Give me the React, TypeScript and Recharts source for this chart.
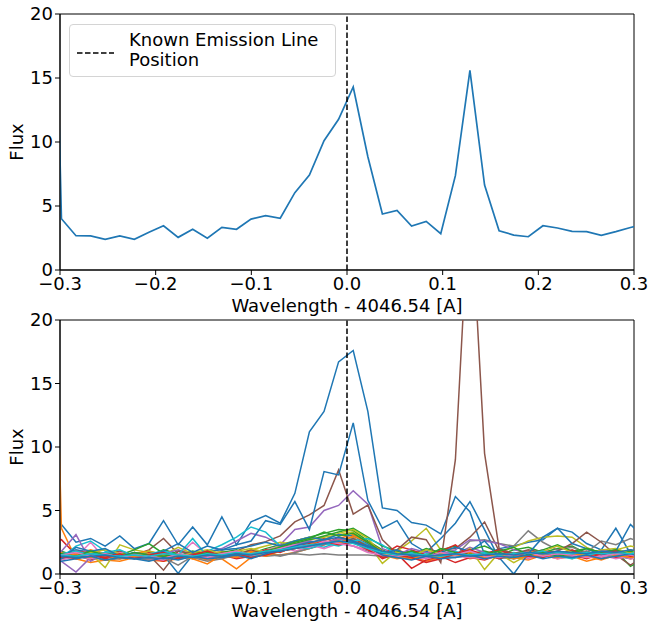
import React from 'react';
import { LineChart, Line, XAxis, YAxis, ReferenceLine, ReferenceArea, Legend } from 'recharts';

// wavelength offsets (A) of the spectral samples (first and last fall just outside the plotted window)
const wavelength = [-0.3138, -0.2985, -0.2833, -0.2680, -0.2528, -0.2375, -0.2223, -0.2070, -0.1918, -0.1765, -0.1613, -0.1460, -0.1308, -0.1155, -0.1003, -0.0850, -0.0698, -0.0545, -0.0393, -0.0240, -0.0088, 0.0065, 0.0218, 0.0370, 0.0523, 0.0675, 0.0828, 0.0980, 0.1133, 0.1285, 0.1438, 0.1590, 0.1743, 0.1895, 0.2048, 0.2200, 0.2353, 0.2505, 0.2658, 0.2810, 0.2963, 0.3115];

const X_TICKS = [-0.3, -0.2, -0.1, 0, 0.1, 0.2, 0.3];
const Y_TICKS = [0, 5, 10, 15, 20];
const X_LABEL = 'Wavelength - 4046.54 [A]';
const Y_LABEL = 'Flux';
const LEGEND_LINES = ['Known Emission Line', 'Position'];

// top panel
const topFlux = [52, 4.0, 2.68, 2.66, 2.4, 2.66, 2.4, 2.95, 3.46, 2.55, 3.18, 2.48, 3.33, 3.18, 3.98, 4.24, 4.04, 6.04, 7.42, 10.1, 11.77, 14.3, 8.85, 4.37, 4.66, 3.44, 3.8, 2.84, 7.37, 15.6, 6.64, 3.07, 2.73, 2.6, 3.46, 3.28, 3.02, 3.0, 2.71, 3.0, 3.32, 3.6];

// bottom panel: individual spectra
const specA = [3.9, 3.9, 2.5, 2.8, 2.2, 3.0, 2.0, 2.4, 4.2, 2.3, 3.7, 2.3, 4.5, 2.3, 4.1, 4.6, 4.0, 6.35, 11.2, 12.8, 16.7, 17.6, 12.8, 5.2, 5.0, 4.05, 3.85, 3.15, 6.1, 4.9, 1.5, 2.0, 2.2, 2.5, 2.7, 3.6, 3.3, 2.4, 1.9, 3.6, 1.6, 1.5];
const specOrange1 = [46, 3.6, 1.2, 0.9, 1.1, 1.0, 1.3, 1.1, 1.0, 1.2, 1.4, 1.1, 1.2, 0.4, 1.3, 1.6, 1.5, 1.7, 2.0, 2.4, 2.7, 2.9, 2.1, 1.5, 1.2, 1.4, 1.0, 1.3, 1.6, 1.2, 1.4, 1.6, 1.3, 1.1, 1.5, 1.2, 1.4, 1.0, 1.3, 1.5, 1.2, 1.4];
const specGreen1 = [1.4, 1.3, 1.6, 1.5, 1.2, 1.7, 1.5, 1.4, 1.9, 1.6, 1.3, 1.8, 1.5, 1.7, 1.6, 2.0, 2.3, 2.6, 2.9, 3.2, 3.5, 3.4, 2.6, 1.9, 1.4, 1.7, 1.5, 1.9, 2.2, 1.6, 1.8, 1.5, 1.9, 2.1, 1.7, 2.0, 2.2, 1.6, 1.9, 1.8, 0.6, 1.2];
const specRed1 = [2.4, 2.7, 1.5, 1.1, 1.4, 1.2, 1.6, 1.3, 1.0, 1.5, 1.2, 1.4, 1.8, 1.3, 1.6, 1.5, 1.9, 2.1, 2.4, 2.8, 2.5, 2.7, 2.0, 1.2, 1.6, 0.45, 1.1, 1.4, 0.9, 1.3, 1.1, 1.5, 1.2, 1.8, 1.4, 1.6, 1.3, 1.7, 1.2, 1.5, 1.9, 1.4];
const specPurple1 = [1.6, 1.0, 0.15, 1.3, 1.7, 1.4, 1.5, 1.8, 1.2, 1.4, 1.6, 1.7, 2.0, 2.6, 3.2, 2.9, 2.3, 3.5, 3.7, 5.0, 5.4, 6.55, 5.5, 2.0, 1.6, 1.3, 1.8, 1.4, 1.6, 2.1, 1.7, 1.4, 1.5, 1.6, 1.9, 1.5, 1.3, 1.6, 1.8, 1.4, 1.2, 1.5];
const specBrown1 = [1.5, 1.4, 1.7, 1.3, 1.6, 1.8, 1.5, 1.9, 2.8, 1.6, 1.4, 1.7, 1.5, 1.8, 2.3, 2.55, 3.0, 4.1, 4.65, 5.4, 8.2, 4.72, 5.43, 2.7, 1.6, 1.8, 1.5, 1.9, 2.0, 2.9, 4.1, 1.8, 1.6, 1.4, 1.7, 1.5, 1.6, 1.8, 1.4, 1.7, 1.5, 1.6];
const specPink1 = [1.4, 1.6, 1.3, 2.5, 1.2, 1.7, 1.5, 1.3, 1.6, 1.4, 2.5, 1.5, 1.8, 1.4, 1.6, 1.9, 2.2, 1.8, 2.1, 2.5, 2.3, 2.7, 2.0, 1.6, 1.3, 1.5, 1.8, 1.4, 1.6, 1.3, 1.5, 1.7, 1.4, 1.2, 1.6, 1.4, 1.7, 1.5, 1.3, 1.6, 1.2, 1.4];
const specGray1 = [1.3, 1.2, 1.4, 1.3, 1.1, 1.2, 1.3, 1.1, 1.4, 1.2, 1.3, 1.0, 1.2, 1.5, 1.3, 1.6, 1.4, 1.7, 2.0, 2.3, 2.5, 2.2, 1.8, 1.4, 1.3, 1.2, 1.5, 1.3, 1.4, 2.6, 2.7, 2.4, 2.2, 3.4, 2.5, 1.9, 2.1, 1.7, 2.6, 2.3, 2.8, 2.4];
const specOlive1 = [1.6, 1.5, 1.8, 1.6, 0.5, 2.3, 1.9, 1.7, 1.5, 2.1, 1.6, 1.4, 1.8, 1.6, 1.9, 2.2, 2.5, 2.3, 2.7, 2.9, 3.1, 3.3, 2.4, 0.84, 1.8, 2.6, 3.6, 1.9, 1.3, 2.0, 0.35, 1.7, 2.1, 2.6, 2.9, 3.0, 2.9, 2.1, 1.6, 1.9, 2.2, 2.0];
const specCyan1 = [1.5, 1.3, 2.2, 2.6, 1.8, 1.4, 1.6, 1.3, 1.7, 1.5, 1.6, 1.8, 2.3, 2.9, 3.7, 3.3, 2.2, 2.0, 2.3, 2.1, 2.5, 2.8, 2.3, 1.6, 1.4, 1.7, 1.2, 1.5, 1.8, 1.3, 1.6, 1.4, 1.7, 1.5, 1.3, 1.6, 1.4, 1.7, 1.5, 1.3, 1.6, 1.5];
const specB = [1.6, 1.5, 1.9, 1.7, 1.4, 1.3, 1.2, 1.6, 1.5, 0.05, 1.5, 1.8, 1.9, 2.3, 2.6, 4.2, 3.9, 5.7, 3.5, 8.06, 7.8, 11.9, 5.8, 3.6, 4.2, 2.4, 1.7, 2.8, 4.0, 5.7, 3.5, 1.2, 1.5, 1.7, 1.4, 1.6, 1.8, 1.5, 1.7, 1.9, 1.6, 1.7];
const specOrange2 = [1.8, 1.7, 1.5, 1.9, 1.6, 1.4, 1.6, 1.8, 1.5, 1.3, 1.7, 1.6, 1.4, 1.5, 1.8, 1.6, 1.9, 2.3, 2.6, 2.4, 2.8, 3.1, 2.5, 1.7, 1.9, 1.5, 1.2, 1.6, 1.4, 1.7, 1.5, 1.3, 1.6, 1.8, 1.5, 1.7, 1.2, 1.6, 1.4, 1.9, 1.7, 1.6];
const specGreen2 = [1.7, 1.8, 1.4, 1.2, 1.6, 1.5, 1.9, 2.4, 1.6, 1.4, 1.8, 1.5, 1.7, 1.9, 1.4, 1.8, 2.1, 2.4, 2.7, 3.0, 3.3, 3.6, 2.9, 2.2, 1.8, 1.5, 2.0, 1.7, 1.5, 1.9, 2.2, 1.7, 1.4, 1.6, 1.9, 2.3, 1.8, 2.0, 1.7, 1.5, 1.8, 1.6];
const specRed2 = [1.2, 1.3, 1.8, 1.6, 1.2, 1.5, 1.3, 1.7, 1.5, 1.2, 1.6, 1.3, 1.5, 1.2, 1.4, 1.9, 1.7, 2.2, 2.5, 2.3, 2.9, 2.6, 2.2, 1.5, 2.2, 1.9, 1.5, 1.8, 2.3, 1.4, 1.6, 1.9, 1.5, 1.3, 1.7, 1.5, 1.9, 1.4, 1.6, 1.3, 1.5, 1.7];
const specPurple2 = [1.9, 1.8, 3.1, 1.0, 1.6, 1.4, 1.7, 1.3, 1.6, 1.9, 1.5, 1.2, 1.4, 1.7, 1.5, 1.8, 2.0, 2.3, 2.6, 2.4, 2.8, 2.5, 2.1, 1.8, 1.5, 2.0, 1.7, 1.6, 1.9, 2.7, 2.6, 2.4, 1.9, 1.7, 1.5, 1.8, 1.6, 1.4, 1.9, 1.7, 1.3, 1.5];
const specBrown2 = [1.3, 1.2, 1.5, 1.8, 1.4, 1.6, 1.3, 1.5, 0.3, 1.8, 1.6, 1.4, 1.7, 1.5, 1.9, 1.6, 1.8, 2.1, 2.3, 2.6, 2.4, 2.8, 2.2, 1.6, 1.9, 2.9, 2.7, 0.9, 9.0, 30.5, 9.5, 2.0, 1.6, 1.9, 1.7, 1.8, 2.4, 3.3, 2.5, 1.5, 0.7, 1.4];
const specPink2 = [1.2, 1.1, 1.4, 1.2, 1.5, 1.3, 1.4, 1.2, 1.1, 1.5, 1.3, 1.6, 1.3, 1.5, 1.4, 1.6, 1.9, 2.1, 2.3, 2.0, 2.4, 2.2, 1.9, 1.4, 1.6, 1.3, 1.2, 1.5, 1.4, 1.3, 1.2, 1.4, 1.6, 1.3, 1.5, 1.2, 1.4, 1.3, 1.5, 1.2, 1.4, 1.3];
const specGray2 = [1.5, 1.4, 1.3, 1.5, 1.4, 1.3, 1.4, 1.2, 1.3, 0.7, 1.4, 1.5, 1.3, 1.4, 1.6, 1.4, 1.5, 1.6, 1.5, 1.6, 1.5, 1.5, 1.5, 1.4, 1.5, 1.5, 1.4, 1.5, 1.6, 1.4, 1.5, 1.3, 1.2, 1.4, 1.6, 1.5, 1.3, 1.4, 1.2, 1.5, 1.3, 1.4];
const specOlive2 = [1.4, 1.5, 1.3, 1.7, 1.9, 1.6, 1.4, 1.8, 1.5, 1.3, 1.7, 1.9, 1.6, 1.8, 2.0, 1.7, 2.2, 2.6, 2.9, 2.7, 3.2, 3.5, 2.8, 1.5, 1.7, 1.4, 1.9, 1.6, 1.5, 1.8, 1.4, 1.6, 0.9, 1.5, 1.8, 2.2, 1.7, 1.5, 1.9, 2.0, 1.6, 2.2];
const specCyan2 = [1.7, 1.6, 1.8, 1.5, 1.7, 1.9, 1.4, 1.6, 1.8, 1.5, 2.8, 1.4, 1.6, 1.5, 1.3, 1.7, 1.9, 2.1, 2.0, 2.4, 2.2, 2.6, 2.8, 2.3, 1.5, 1.2, 1.6, 1.4, 1.3, 1.5, 1.7, 1.5, 1.3, 1.6, 1.8, 1.4, 1.2, 1.5, 1.7, 1.4, 1.6, 1.8];
const specD = [1.3, 1.2, 2.1, 1.8, 2.0, 1.4, 1.7, 1.5, 1.8, 2.4, 1.7, 2.2, 1.9, 2.0, 2.2, 2.5, 2.2, 2.6, 2.9, 2.7, 3.1, 3.0, 2.4, 1.6, 1.9, 1.4, 1.3, 1.7, 2.1, 1.8, 2.6, 1.3, 0.0, 1.6, 2.9, 3.6, 2.4, 2.0, 1.5, 1.8, 3.9, 2.8];
const specOrange3 = [1.3, 1.4, 1.6, 1.3, 1.5, 1.2, 1.4, 1.6, 1.3, 1.5, 1.2, 0.8, 1.5, 1.3, 1.7, 1.4, 1.8, 2.0, 2.3, 2.6, 2.4, 3.0, 2.5, 1.8, 1.4, 1.2, 1.5, 1.3, 1.6, 1.4, 1.3, 1.6, 1.2, 1.4, 1.5, 1.3, 1.6, 1.4, 1.1, 1.5, 1.3, 1.5];
const specGreen3 = [1.5, 1.6, 1.4, 1.8, 1.5, 1.3, 1.7, 1.5, 1.4, 1.6, 1.3, 1.7, 1.4, 1.6, 1.5, 1.8, 2.1, 2.5, 2.8, 3.3, 3.0, 3.2, 2.5, 1.7, 1.5, 1.8, 1.4, 2.0, 1.7, 1.5, 1.6, 1.8, 2.1, 1.5, 1.7, 1.4, 1.6, 2.0, 1.7, 1.9, 1.5, 1.7];
const specRed3 = [1.6, 1.4, 1.2, 1.5, 1.3, 1.6, 1.2, 1.5, 1.7, 1.3, 1.5, 1.8, 1.4, 1.6, 1.3, 1.5, 1.8, 2.0, 2.2, 2.6, 2.3, 2.5, 1.9, 1.3, 1.5, 1.3, 0.9, 1.2, 1.6, 1.9, 1.5, 1.2, 1.6, 1.4, 1.3, 1.7, 1.5, 1.2, 1.6, 1.8, 1.4, 1.6];
const specPink3 = [1.3, 1.5, 1.7, 1.4, 1.6, 1.3, 1.5, 1.4, 1.2, 1.6, 1.4, 1.3, 1.6, 1.8, 1.5, 1.7, 2.0, 2.3, 2.1, 2.6, 2.4, 2.2, 1.7, 1.5, 1.4, 1.6, 1.3, 1.7, 1.5, 1.8, 1.4, 1.3, 1.5, 1.7, 1.4, 1.6, 1.5, 1.3, 1.4, 1.6, 1.5, 1.3];
const specBlue5 = [1.1, 1.0, 1.2, 1.4, 1.1, 1.3, 1.2, 1.0, 1.3, 1.1, 1.4, 1.2, 1.3, 1.5, 1.2, 1.6, 1.9, 2.2, 2.5, 2.7, 2.9, 2.6, 2.1, 1.5, 1.3, 1.1, 1.4, 1.2, 1.3, 1.5, 1.2, 1.4, 1.3, 1.5, 1.2, 1.4, 1.3, 1.5, 1.2, 1.4, 1.6, 1.3];
const specCyan3 = [1.4, 1.5, 1.4, 1.6, 1.5, 1.4, 1.5, 1.4, 1.6, 1.5, 1.4, 1.6, 1.5, 1.7, 1.6, 1.8, 1.9, 2.1, 2.3, 2.4, 2.6, 2.4, 2.0, 1.7, 1.5, 1.6, 1.5, 1.4, 1.6, 1.5, 1.6, 1.5, 1.6, 1.7, 1.6, 1.7, 1.6, 1.7, 1.6, 1.7, 1.6, 1.7];
const specBlue4 = [1.5, 1.4, 1.3, 1.4, 1.5, 1.3, 1.2, 1.3, 1.2, 1.4, 1.3, 1.5, 1.4, 1.6, 1.5, 1.7, 1.8, 2.0, 2.2, 2.4, 2.6, 2.5, 2.2, 1.8, 1.6, 1.5, 1.4, 1.5, 1.6, 1.4, 1.5, 1.6, 1.5, 1.7, 1.6, 1.8, 1.7, 1.6, 1.8, 1.7, 1.9, 1.8];

const TAB = {
  blue: '#1f77b4', orange: '#ff7f0e', green: '#2ca02c', red: '#d62728', purple: '#9467bd',
  brown: '#8c564b', pink: '#e377c2', gray: '#7f7f7f', olive: '#bcbd22', cyan: '#17becf',
};

const bottomSeries = [
  { key: 's1', values: specA, color: TAB.blue },
  { key: 's2', values: specOrange1, color: TAB.orange },
  { key: 's3', values: specGreen1, color: TAB.green },
  { key: 's4', values: specRed1, color: TAB.red },
  { key: 's5', values: specPurple1, color: TAB.purple },
  { key: 's6', values: specBrown1, color: TAB.brown },
  { key: 's7', values: specPink1, color: TAB.pink },
  { key: 's8', values: specGray1, color: TAB.gray },
  { key: 's9', values: specOlive1, color: TAB.olive },
  { key: 's10', values: specCyan1, color: TAB.cyan },
  { key: 's11', values: specB, color: TAB.blue },
  { key: 's12', values: specOrange2, color: TAB.orange },
  { key: 's13', values: specGreen2, color: TAB.green },
  { key: 's14', values: specRed2, color: TAB.red },
  { key: 's15', values: specPurple2, color: TAB.purple },
  { key: 's16', values: specBrown2, color: TAB.brown },
  { key: 's17', values: specPink2, color: TAB.pink },
  { key: 's18', values: specGray2, color: TAB.gray },
  { key: 's19', values: specOlive2, color: TAB.olive },
  { key: 's20', values: specCyan2, color: TAB.cyan },
  { key: 's21', values: specD, color: TAB.blue },
  { key: 's22', values: specOrange3, color: TAB.orange },
  { key: 's23', values: specGreen3, color: TAB.green },
  { key: 's24', values: specRed3, color: TAB.red },
  { key: 's25', values: specPink3, color: TAB.pink },
  { key: 's26', values: specBlue5, color: TAB.blue },
  { key: 's27', values: specCyan3, color: TAB.cyan },
  { key: 's28', values: specBlue4, color: TAB.blue },
];

const topData = wavelength.map((w, i) => ({ w, flux: topFlux[i] }));
const bottomData = wavelength.map((w, i) => {
  const row: Record<string, number> = { w };
  bottomSeries.forEach((s) => { row[s.key] = s.values[i]; });
  return row;
});

const FONT = 'DejaVu Sans';
const fmtX = (v: number) => (v < -1e-9 ? '\u2212' : '') + Math.abs(v).toFixed(1);
const tickStyle = { fontSize: 18, fill: '#000', fontFamily: FONT };

const LegendBox = () => (
  <div style={{
    width: 267, height: 53, boxSizing: 'border-box', border: '1px solid #d4d4d4', borderRadius: 4,
    background: 'rgba(255,255,255,0.85)', position: 'relative', fontFamily: FONT, fontSize: 18, color: '#000',
  }}>
    <svg width={40} height={4} style={{ position: 'absolute', left: 7, top: 26 }}>
      <line x1={0} y1={2} x2={37} y2={2} stroke="#000" strokeWidth={1.5} strokeDasharray="5.5 2.5" />
    </svg>
    <div style={{ position: 'absolute', left: 59, top: 5, lineHeight: '20px', whiteSpace: 'nowrap' }}>
      {LEGEND_LINES.map((t) => <div key={t}>{t}</div>)}
    </div>
  </div>
);

function axes(xLabelOffset: number, xAxisHeight: number) {
  return [
    <XAxis key="x" type="number" dataKey="w" domain={[-0.3, 0.3]} ticks={X_TICKS} interval={0}
      allowDataOverflow tickFormatter={fmtX} height={xAxisHeight} tick={tickStyle}
      tickLine={{ stroke: '#000' }} axisLine={{ stroke: '#000' }} tickSize={5} tickMargin={2}
      label={{ value: X_LABEL, position: 'insideBottom', offset: xLabelOffset, fill: '#000', fontSize: 18, fontFamily: FONT }} />,
    <YAxis key="y" type="number" domain={[0, 20]} ticks={Y_TICKS} interval={0} allowDataOverflow width={60}
      tick={tickStyle} tickLine={{ stroke: '#000' }} axisLine={{ stroke: '#000' }} tickSize={5} tickMargin={2}
      label={{ value: Y_LABEL, angle: -90, position: 'insideLeft', offset: 17, fill: '#000', fontSize: 18, fontFamily: FONT, style: { textAnchor: 'middle' } }} />,
  ];
}

export default function App() {
  return (
    <div style={{ position: 'absolute', left: 0, top: 0, width: 651, height: 624, background: '#fff' }}>
      <div style={{ position: 'absolute', left: 0, top: 300 }}>
        <LineChart width={651} height={324} data={bottomData} margin={{ top: 20, right: 17, bottom: 0, left: 0 }}>
          {axes(7, 50)}
          {bottomSeries.map((s) => (
            <Line key={s.key} type="linear" dataKey={s.key} stroke={s.color} strokeWidth={1.5} dot={false} isAnimationActive={false} />
          ))}
          <ReferenceLine x={0} stroke="#000" strokeWidth={1.5} strokeDasharray="5.5 2.5" />
          <ReferenceArea x1={-0.3} x2={0.3} y1={0} y2={20} fill="none" stroke="#000" strokeWidth={1} ifOverflow="visible" />
        </LineChart>
      </div>
      <div style={{ position: 'absolute', left: 0, top: 0 }}>
        <LineChart width={651} height={318} data={topData} margin={{ top: 14, right: 17, bottom: 0, left: 0 }}>
          {axes(6, 48)}
          <Line type="linear" dataKey="flux" stroke={TAB.blue} strokeWidth={1.7} dot={false} isAnimationActive={false} />
          <ReferenceLine x={0} stroke="#000" strokeWidth={1.5} strokeDasharray="5.5 2.5" />
          <ReferenceArea x1={-0.3} x2={0.3} y1={0} y2={20} fill="none" stroke="#000" strokeWidth={1} ifOverflow="visible" />
          <Legend layout="horizontal" verticalAlign="middle" align="center" content={() => <LegendBox />}
            wrapperStyle={{ position: 'absolute', left: 69, top: 24, width: 267, height: 53 }} />
        </LineChart>
      </div>
    </div>
  );
}
